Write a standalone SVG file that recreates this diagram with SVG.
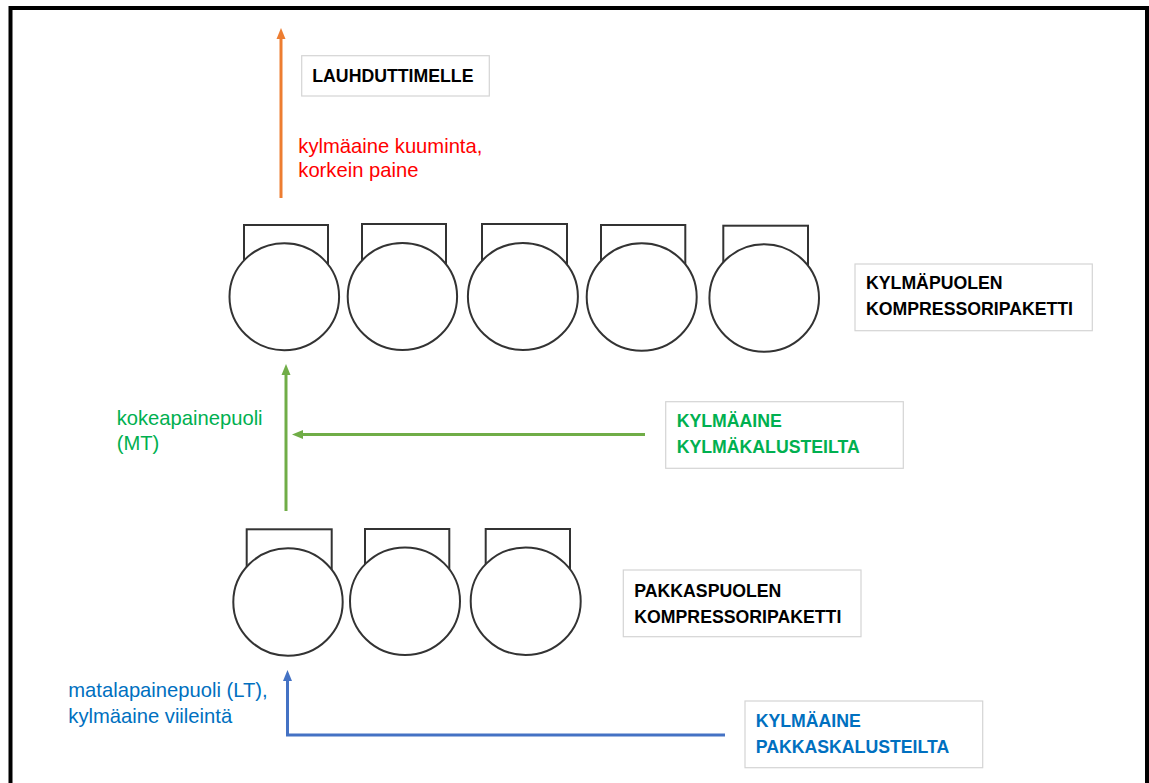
<svg xmlns="http://www.w3.org/2000/svg" width="1149" height="783" viewBox="0 0 1149 783">
<style>
.box{fill:#fff;stroke:#d4d4d4;stroke-width:1.2}
.bold{font-family:"Liberation Sans",Arial,sans-serif;font-weight:bold;font-size:17.7px}
.reg{font-family:"Liberation Sans",Arial,sans-serif;font-size:20.2px}
.cyl rect{fill:#fff;stroke:#333;stroke-width:2}
.cyl ellipse{fill:#fff;stroke:#333;stroke-width:2}
</style>
<defs>
<marker id="ao" markerWidth="11" markerHeight="11" refX="5" refY="5.5" orient="auto" markerUnits="userSpaceOnUse" viewBox="0 0 11 11"><path d="M0,1 L11,5.5 L0,10 z" fill="#ED7D31"/></marker>
<marker id="ag" markerWidth="11" markerHeight="11" refX="5" refY="5.5" orient="auto" markerUnits="userSpaceOnUse" viewBox="0 0 11 11"><path d="M0,1 L11,5.5 L0,10 z" fill="#70AD47"/></marker>
<marker id="ab" markerWidth="11" markerHeight="11" refX="5" refY="5.5" orient="auto" markerUnits="userSpaceOnUse" viewBox="0 0 11 11"><path d="M0,1 L11,5.5 L0,10 z" fill="#4472C4"/></marker>
</defs>
<rect x="0" y="0" width="1149" height="783" fill="#fff"/>
<rect x="10.5" y="8" width="1136.5" height="800" fill="none" stroke="#000" stroke-width="4"/>

<g id="connectors" fill="none" stroke-width="3">
<path d="M281,198 V34" stroke="#ED7D31" marker-end="url(#ao)"/>
<path d="M286,511 V370" stroke="#70AD47" marker-end="url(#ag)"/>
<path d="M645,434.5 H298" stroke="#70AD47" marker-end="url(#ag)"/>
<path d="M725,735 H287.5 V676" stroke="#4472C4" marker-end="url(#ab)"/>
</g>

<g id="cond-label">
<rect class="box" x="301.7" y="55.7" width="187.6" height="40.3"/>
<text class="bold" x="312.3" y="81.7" fill="#000">LAUHDUTTIMELLE</text>
</g>
<g id="hot-label">
<text class="reg" fill="#FF0000"><tspan x="298.3" y="152.7">kylmäaine kuuminta,</tspan><tspan x="298.3" y="176.7">korkein paine</tspan></text>
</g>

<g id="mt-compressors" class="cyl">
<g id="mt1"><rect x="244" y="225" width="84" height="40"/><ellipse cx="284.3" cy="296.7" rx="54.8" ry="53.5"/></g>
<g id="mt2"><rect x="362" y="224" width="84" height="40"/><ellipse cx="402.4" cy="296.5" rx="54.7" ry="53.5"/></g>
<g id="mt3"><rect x="482" y="224" width="85" height="40"/><ellipse cx="522.9" cy="296.5" rx="55" ry="53.5"/></g>
<g id="mt4"><rect x="601" y="225" width="84.3" height="40"/><ellipse cx="641.7" cy="297" rx="55" ry="53.7"/></g>
<g id="mt5"><rect x="723.3" y="225.7" width="84.7" height="40"/><ellipse cx="764.2" cy="298" rx="54.8" ry="53.7"/></g>
</g>
<g id="mt-label">
<rect class="box" x="855" y="264" width="237.3" height="66.7"/>
<text class="bold" fill="#000"><tspan x="866" y="289.3">KYLMÄPUOLEN</tspan><tspan x="866" y="315">KOMPRESSORIPAKETTI</tspan></text>
</g>

<g id="mt-side-label">
<text class="reg" fill="#00B050"><tspan x="116.7" y="425">kokeapainepuoli</tspan><tspan x="116.7" y="450">(MT)</tspan></text>
</g>
<g id="mt-source">
<rect class="box" x="665.7" y="401.7" width="237.6" height="66.6"/>
<text class="bold" fill="#00B050"><tspan x="676.7" y="427.3">KYLMÄAINE</tspan><tspan x="676.7" y="453.3">KYLMÄKALUSTEILTA</tspan></text>
</g>

<g id="lt-compressors" class="cyl">
<g id="lt1"><rect x="246.7" y="529.3" width="85" height="40"/><ellipse cx="288" cy="602" rx="54.7" ry="53.7"/></g>
<g id="lt2"><rect x="365" y="529" width="84.3" height="40"/><ellipse cx="405" cy="601.2" rx="55" ry="53.8"/></g>
<g id="lt3"><rect x="485.7" y="529" width="84.3" height="40"/><ellipse cx="525.7" cy="601.2" rx="55" ry="53.8"/></g>
</g>
<g id="lt-label">
<rect class="box" x="623.3" y="570" width="237.7" height="66.7"/>
<text class="bold" fill="#000"><tspan x="634.3" y="596.7">PAKKASPUOLEN</tspan><tspan x="634.3" y="623.3">KOMPRESSORIPAKETTI</tspan></text>
</g>

<g id="lt-side-label">
<text class="reg" fill="#0070C0"><tspan x="68.3" y="696.7">matalapainepuoli (LT),</tspan><tspan x="68.3" y="722.7">kylmäaine viileintä</tspan></text>
</g>
<g id="lt-source">
<rect class="box" x="745" y="701" width="237.7" height="66.7"/>
<text class="bold" fill="#0070C0"><tspan x="755.7" y="726.7">KYLMÄAINE</tspan><tspan x="755.7" y="753.3">PAKKASKALUSTEILTA</tspan></text>
</g>
</svg>
